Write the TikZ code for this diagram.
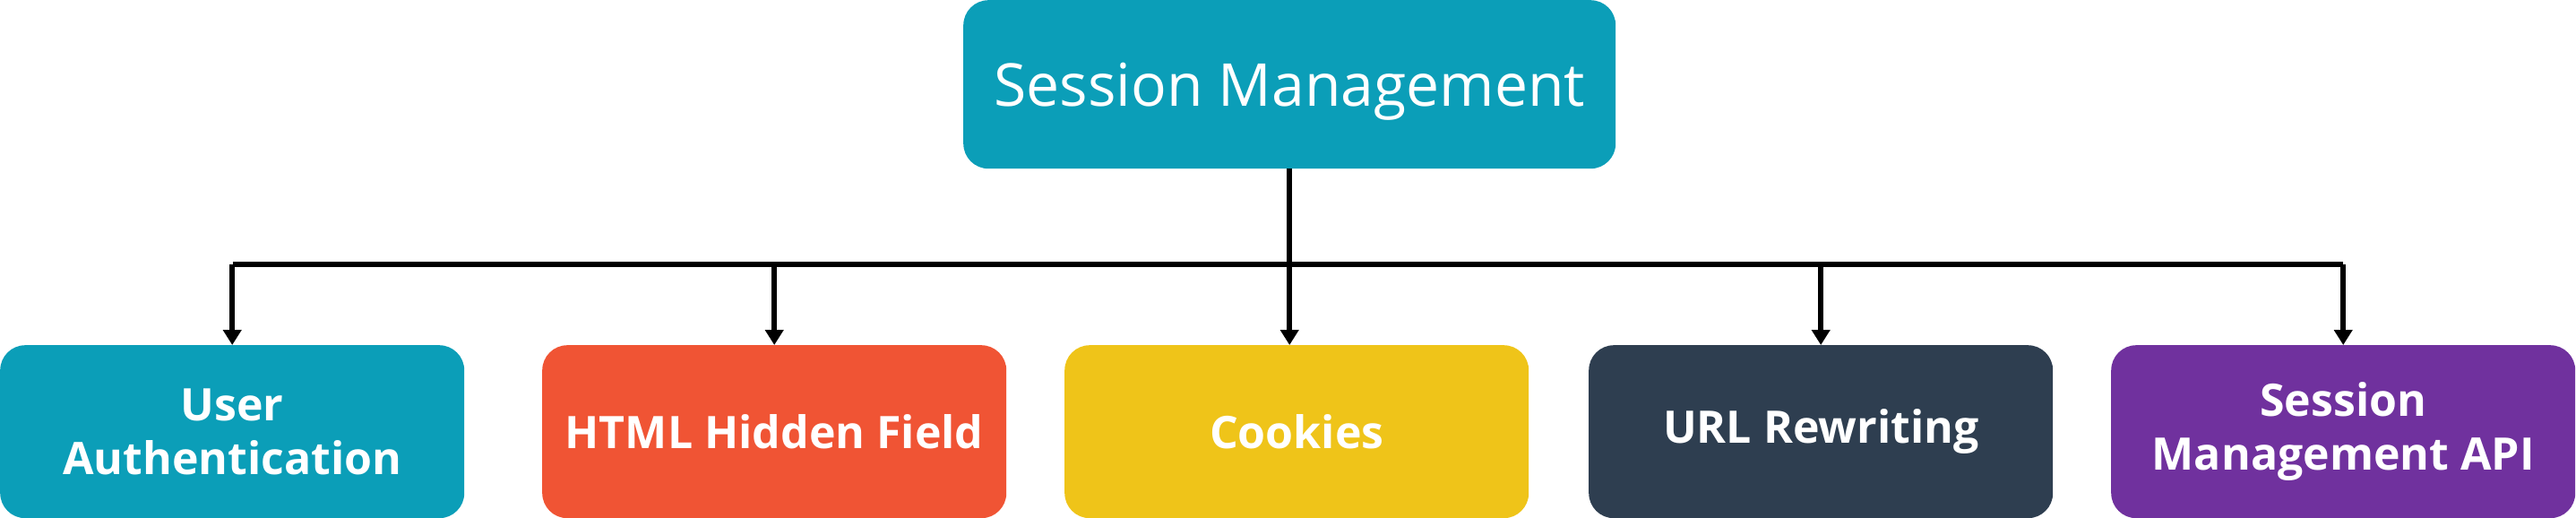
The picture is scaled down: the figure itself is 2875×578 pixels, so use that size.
\documentclass[tikz,border=0pt]{standalone}
\usepackage{fontspec}
\setmainfont{Open Sans}
\usetikzlibrary{arrows.meta}
\definecolor{cteal}{HTML}{0B9EB8}
\definecolor{cred}{HTML}{F05434}
\definecolor{cyellow}{HTML}{EFC419}
\definecolor{cdark}{HTML}{2E3E50}
\definecolor{cpurple}{HTML}{70319E}
\begin{document}
\begin{tikzpicture}[x=1pt,y=-1pt]
\useasboundingbox (0,0) rectangle (2875,578);
\tikzset{
  box/.style={rounded corners=28pt, inner sep=0pt, text=white, align=center, anchor=north west},
  sub/.style={box, minimum width=518pt, minimum height=193pt, font=\fontsize{50}{60}\selectfont\bfseries},
  conn/.style={line width=6pt, -{Triangle[width=20pt,length=17pt]}},
  bar/.style={line width=6pt}
}
\node[box, fill=cteal, minimum width=728pt, minimum height=188pt, font=\fontsize{66}{78}\selectfont] (top) at (1075,0) {\raisebox{-24pt}[0pt][0pt]{Session Management}};
\node[sub, fill=cteal] (b1) at (0,385) {User\\Authentication};
\node[sub, fill=cred] (b2) at (605,385) {HTML Hidden Field};
\node[sub, fill=cyellow] (b3) at (1188,385) {Cookies};
\node[sub, fill=cdark] (b4) at (1773,385) {URL Rewriting};
\node[sub, fill=cpurple] (b5) at (2356,385) {Session\\Management API};
\coordinate (hl) at (260,295);
\coordinate (hr) at (2615,295);
\draw[bar] (hl) -- (hr);
\draw[conn] (top.south) -- (top.south |- b3.north);
\draw[conn] (b1.north |- hl) -- (b1.north);
\draw[conn] (b2.north |- hl) -- (b2.north);
\draw[conn] (b4.north |- hl) -- (b4.north);
\draw[conn] (b5.north |- hl) -- (b5.north);
\end{tikzpicture}
\end{document}
